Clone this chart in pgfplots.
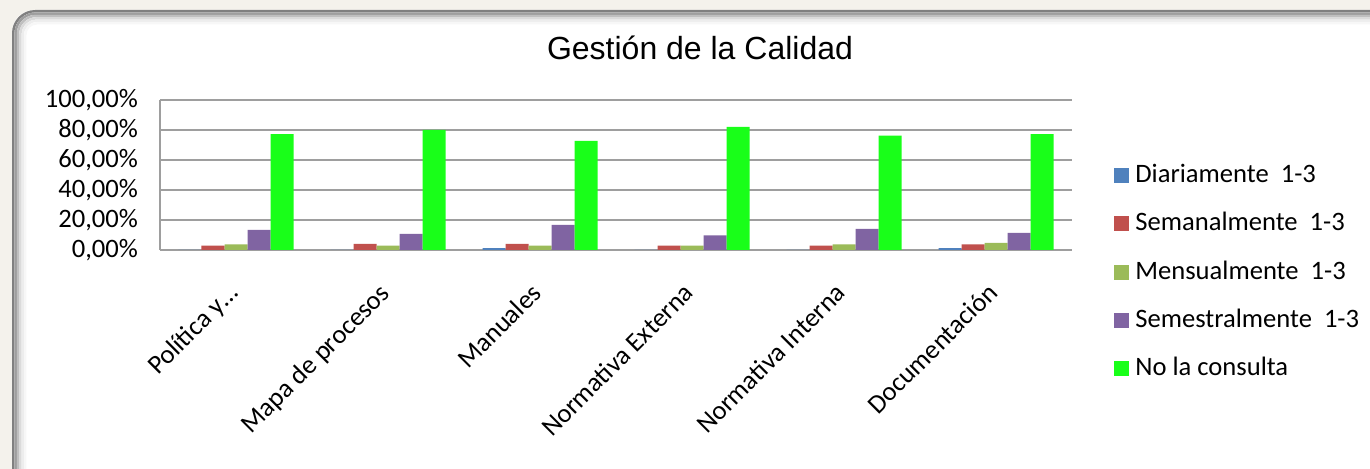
\documentclass[border=0pt]{standalone}
\usepackage{fontspec}
\setmainfont{Carlito}
\newfontfamily\titlefont{Liberation Sans}
\usepackage{pgfplots}
\pgfplotsset{compat=1.18}

\definecolor{cDia}{HTML}{4F81BD}
\definecolor{cSem}{HTML}{C0504D}
\definecolor{cMen}{HTML}{9BBB59}
\definecolor{cSst}{HTML}{8064A2}
\definecolor{cNo}{HTML}{19FF19}
\definecolor{framebg}{HTML}{F4F2EC}
\definecolor{gridc}{HTML}{9E9E9E}

\begin{document}
\begin{tikzpicture}[x=1pt,y=1pt]
% chart area: 1 px of the reference = 0.5pt
\useasboundingbox (0,0) rectangle (685,234.5);
\begin{scope}
\clip (0,0) rectangle (685,234.5);
\fill[framebg] (0,0) rectangle (685,234.5);
\fill[white, rounded corners=11pt] (6,-20) rectangle (720,229.5);
\draw[black!50, line width=1.2pt, rounded corners=11pt] (6.6,-20) |- (720,228.9);
\draw[black!38, line width=1.2pt, rounded corners=10pt] (7.8,-20) |- (720,227.7);
\draw[black!25, line width=1.2pt, rounded corners=9pt] (9.0,-20) |- (720,226.5);
\draw[black!14, line width=1.2pt, rounded corners=8pt] (10.2,-20) |- (720,225.3);
\draw[black!7, line width=1.2pt, rounded corners=7pt] (11.4,-20) |- (720,224.1);
\draw[black!3, line width=1.2pt, rounded corners=6pt] (12.6,-20) |- (720,222.9);
\end{scope}

\node[font=\titlefont\fontsize{16}{19}\selectfont] at (350,210.5) {Gestión de la Calidad};

\begin{axis}[
  at={(80pt,109.5pt)}, anchor=south west,
  scale only axis, width=456pt, height=75pt,
  ybar=0pt, bar width=11.5pt,
  xmin=-0.5, xmax=5.5, ymin=0, ymax=100,
  xtick={0,...,5},
  xticklabels={Política y…, Mapa de procesos, Manuales, Normativa Externa, Normativa Interna, Documentación},
  ytick={0,20,...,100},
  yticklabels={{0,00\%},{20,00\%},{40,00\%},{60,00\%},{80,00\%},{100,00\%}},
  axis lines*=left,
  axis line style={draw=gridc, line width=0.75pt},
  major tick length=0pt,
  ymajorgrids, grid style={draw=gridc, line width=0.75pt},
  tick label style={font=\fontsize{13.3}{16}\selectfont},
  xticklabel style={rotate=45, anchor=north east, xshift=-11.3pt, yshift=-4.2pt},
  yticklabel style={xshift=-7.5pt},
  legend style={at={(1.046,0.58)}, anchor=north west, draw=none, fill=none,
    inner sep=0pt, row sep=12.2pt, font=\fontsize{13.3}{16}\selectfont,
    nodes={inner xsep=3pt, inner ysep=0pt, text height=9.5pt, text depth=2.5pt}},
  legend cell align=left,
  legend image code/.code={\fill[#1] (0pt,-3.75pt) rectangle (7.5pt,3.75pt);},
]
\addplot[fill=cDia, draw=none] coordinates {(0,0) (1,0) (2,1.3) (3,0) (4,0) (5,1.3)};
\addplot[fill=cSem, draw=none] coordinates {(0,2.9) (1,4.0) (2,4.0) (3,2.9) (4,2.9) (5,3.8)};
\addplot[fill=cMen, draw=none] coordinates {(0,3.8) (1,2.9) (2,2.9) (3,2.9) (4,3.8) (5,4.7)};
\addplot[fill=cSst, draw=none] coordinates {(0,13.4) (1,10.7) (2,16.8) (3,9.8) (4,14.1) (5,11.4)};
\addplot[fill=cNo, draw=none] coordinates {(0,77.2) (1,80.0) (2,72.7) (3,82.1) (4,76.2) (5,77.2)};
\legend{Diariamente\ \ 1-3, Semanalmente\ \ 1-3, Mensualmente\ \ 1-3, Semestralmente\ \ 1-3, No la consulta}
\end{axis}
\end{tikzpicture}
\end{document}
